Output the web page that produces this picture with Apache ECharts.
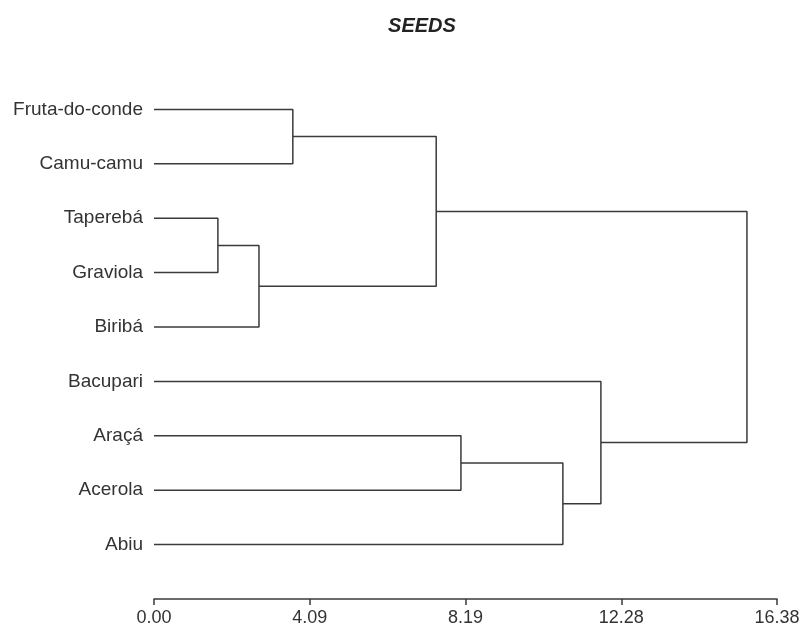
<!DOCTYPE html>
<html>
<head>
<meta charset="utf-8">
<script src="https://cdn.jsdelivr.net/npm/echarts@6/dist/echarts.min.js"></script>
<style>
  html, body { margin: 0; padding: 0; background: #fff; }
  #chart { width: 804px; height: 630px; }
</style>
</head>
<body>
<div id="chart"></div>
<script>
// leaves, top to bottom
var leaves = ['Fruta-do-conde', 'Camu-camu', 'Taperebá', 'Graviola', 'Biribá', 'Bacupari', 'Araçá', 'Acerola', 'Abiu'];
// merges (hclust style): negative = leaf number (1-based), positive = earlier merge (1-based)
var mergeA = [-3, 1, -1, 3, -7, 5, -6, 4];
var mergeB = [-4, -5, -2, 2, -8, -9, 6, 7];
var mergeHeight = [1.68, 2.76, 3.65, 7.42, 8.07, 10.75, 11.75, 15.59];
// x axis ticks
var tickValues = [0, 4.095, 8.19, 12.285, 16.38];
var tickLabels = ['0.00', '4.09', '8.19', '12.28', '16.38'];

var nodeY = [];
function pos(ref) {
    if (ref < 0) return { x: 0, y: -ref - 1 };
    return { x: mergeHeight[ref - 1], y: nodeY[ref - 1] };
}

var series = [];
for (var i = 0; i < mergeHeight.length; i++) {
    var a = pos(mergeA[i]), b = pos(mergeB[i]), h = mergeHeight[i];
    nodeY.push((a.y + b.y) / 2);
    series.push({
        type: 'line',
        data: [[a.x, a.y], [h, a.y], [h, b.y], [b.x, b.y]],
        symbol: 'none',
        silent: true,
        lineStyle: { color: '#3a3a3a', width: 1.5 }
    });
}

var chart = echarts.init(document.getElementById('chart'));
chart.setOption({
    animation: false,
    title: {
        text: 'SEEDS',
        left: 417,
        top: 11,
        textAlign: 'center',
        textStyle: { fontFamily: 'Liberation Sans', fontSize: 20, fontWeight: 'bold', fontStyle: 'italic', color: '#222' }
    },
    grid: { left: 154, right: 27, top: 55, bottom: 31 },
    xAxis: {
        type: 'value',
        min: 0,
        max: 16.38,
        interval: 4.095,
        splitLine: { show: false },
        axisLine: { onZero: false, lineStyle: { color: '#3a3a3a', width: 1.5 } },
        axisTick: { inside: false, length: 6, lineStyle: { color: '#3a3a3a', width: 1.5 } },
        axisLabel: {
            margin: 10,
            fontFamily: 'Liberation Sans',
            fontSize: 18,
            color: '#333',
            showMaxLabel: true,
            formatter: function (v) {
                var best = 0;
                for (var k = 0; k < tickValues.length; k++) {
                    if (Math.abs(tickValues[k] - v) < Math.abs(tickValues[best] - v)) best = k;
                }
                return tickLabels[best];
            }
        }
    },
    yAxis: {
        type: 'value',
        inverse: true,
        min: -1,
        max: 9,
        interval: 1,
        splitLine: { show: false },
        axisLine: { show: false },
        axisTick: { show: false },
        axisLabel: {
            margin: 11,
            fontFamily: 'Liberation Sans',
            fontSize: 19,
            color: '#333',
            formatter: function (v) {
                return leaves[v] || '';
            }
        }
    },
    series: series
});
</script>
</body>
</html>
